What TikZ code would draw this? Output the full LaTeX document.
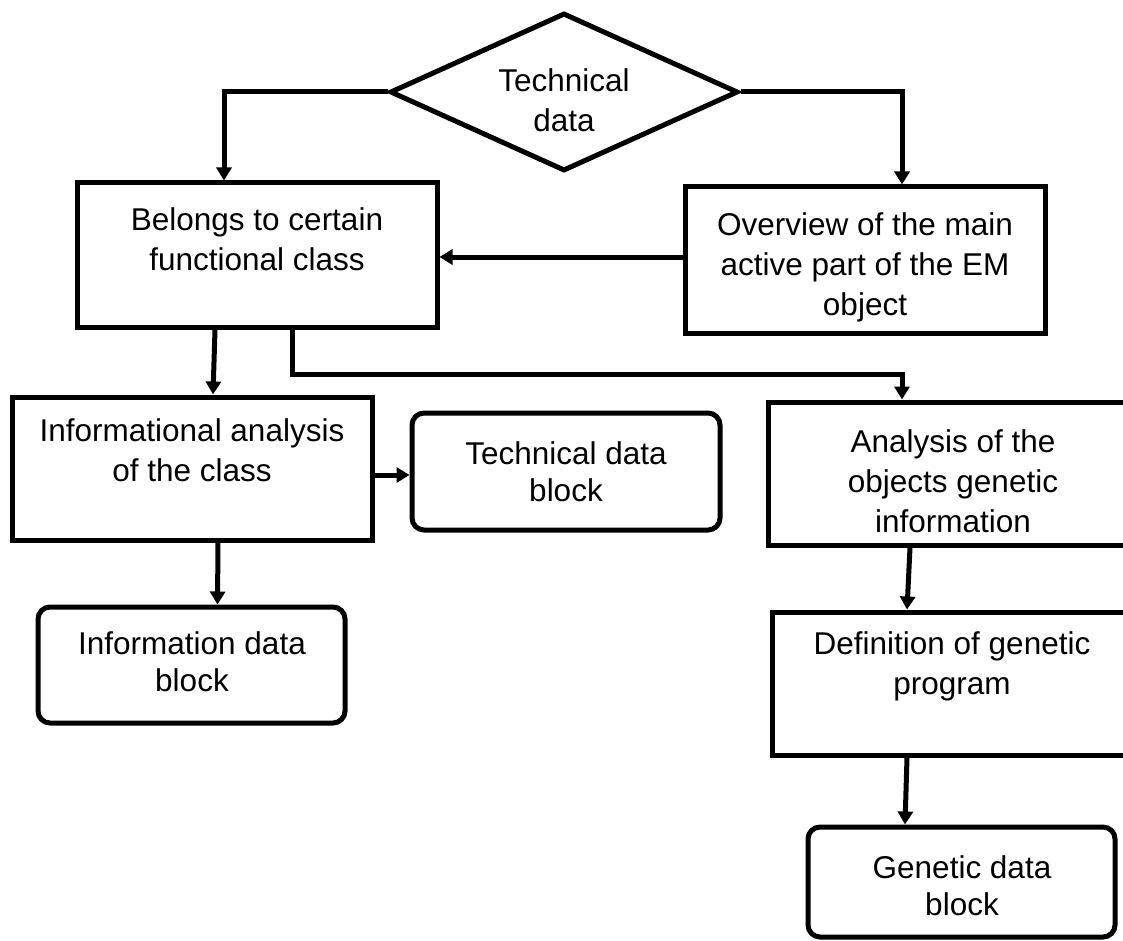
\documentclass[tikz,border=0pt]{standalone}
\usepackage{fontspec}
\setmainfont{Liberation Sans}
\usetikzlibrary{shapes.geometric,arrows.meta}
\begin{document}
\begin{tikzpicture}[x=1pt,y=1pt,
  box/.style={draw, line width=5pt, rectangle, inner sep=0pt},
  rbox/.style={box, rounded corners=12pt},
  dia/.style={draw, line width=5pt, diamond, inner sep=0pt, minimum width=348pt, minimum height=158pt},
  txt/.style={align=center, inner sep=0pt, font=\fontsize{31.5}{40}\selectfont},
  rtxt/.style={align=center, inner sep=0pt, font=\fontsize{31.5}{37}\selectfont},
  arr/.style={line width=5pt, -{Triangle[length=13pt,width=15pt]}},
]
\useasboundingbox (0,0) rectangle (1123,-941);
\clip (0,0) rectangle (1123,-941);

% shapes
\node[dia] (d) at (564,-92) {};
\node[box, minimum width=360pt, minimum height=144pt] (b1) at (257,-255) {};
\node[box, minimum width=360pt, minimum height=146pt] (b2) at (865,-260) {};
\node[box, minimum width=360pt, minimum height=143pt] (b3) at (192,-468.5) {};
\node[rbox, minimum width=308pt, minimum height=117pt] (b4) at (566,-471.5) {};
\node[box, minimum width=360pt, minimum height=143pt] (b5) at (948,-473.5) {};
\node[box, minimum width=360pt, minimum height=143pt] (b6) at (952,-683.5) {};
\node[rbox, minimum width=307pt, minimum height=110pt] (b7) at (961.5,-882) {};
\node[rbox, minimum width=307pt, minimum height=116pt] (b8) at (191.5,-665) {};

% texts
\node[txt] (t0) at (564,-100.5) {Technical\\data};
\node[txt] (t1) at (257,-239.5) {Belongs to certain\\functional class};
\node[txt] (t2) at (865,-267) {Overview of the main\\active part of the EM\\object};
\node[txt] (t3) at (192,-450.5) {Informational analysis\\of the class};
\node[rtxt] (t4) at (566,-472) {Technical data\\block};
\node[txt] (t5) at (953,-481) {Analysis of the\\objects genetic\\information};
\node[txt] (t6) at (952,-666) {Definition of genetic\\program};
\node[rtxt] (t7) at (962,-885.5) {Genetic data\\block};
\node[rtxt] (t8) at (192,-662) {Information data\\block};

% connectors
\draw[arr] (d.west) -| ([xshift=-33pt]b1.north);
\draw[arr] (d.east) -| ([xshift=37pt]b2.north);
\draw[arr] ([yshift=3pt]b2.west) -- ([yshift=3pt]b2.west -| b1.east);
\draw[arr] ([xshift=-42pt]b1.south) -- ([xshift=21pt]b3.north);
\draw[arr] ([xshift=35pt]b1.south) -- ++(0,-45) -| ([xshift=-46pt]b5.north);
\draw[arr] ([yshift=-6.5pt]b3.east) -- ([yshift=-6.5pt]b3.east -| b4.west);
\draw[arr] ([xshift=26pt]b3.south) -- ([xshift=26pt]b8.north);
\draw[arr] ([xshift=-38pt]b5.south) -- ([xshift=-45pt]b6.north);
\draw[arr] ([xshift=-45pt]b6.south) -- ([xshift=-56.5pt]b7.north);
\end{tikzpicture}
\end{document}
